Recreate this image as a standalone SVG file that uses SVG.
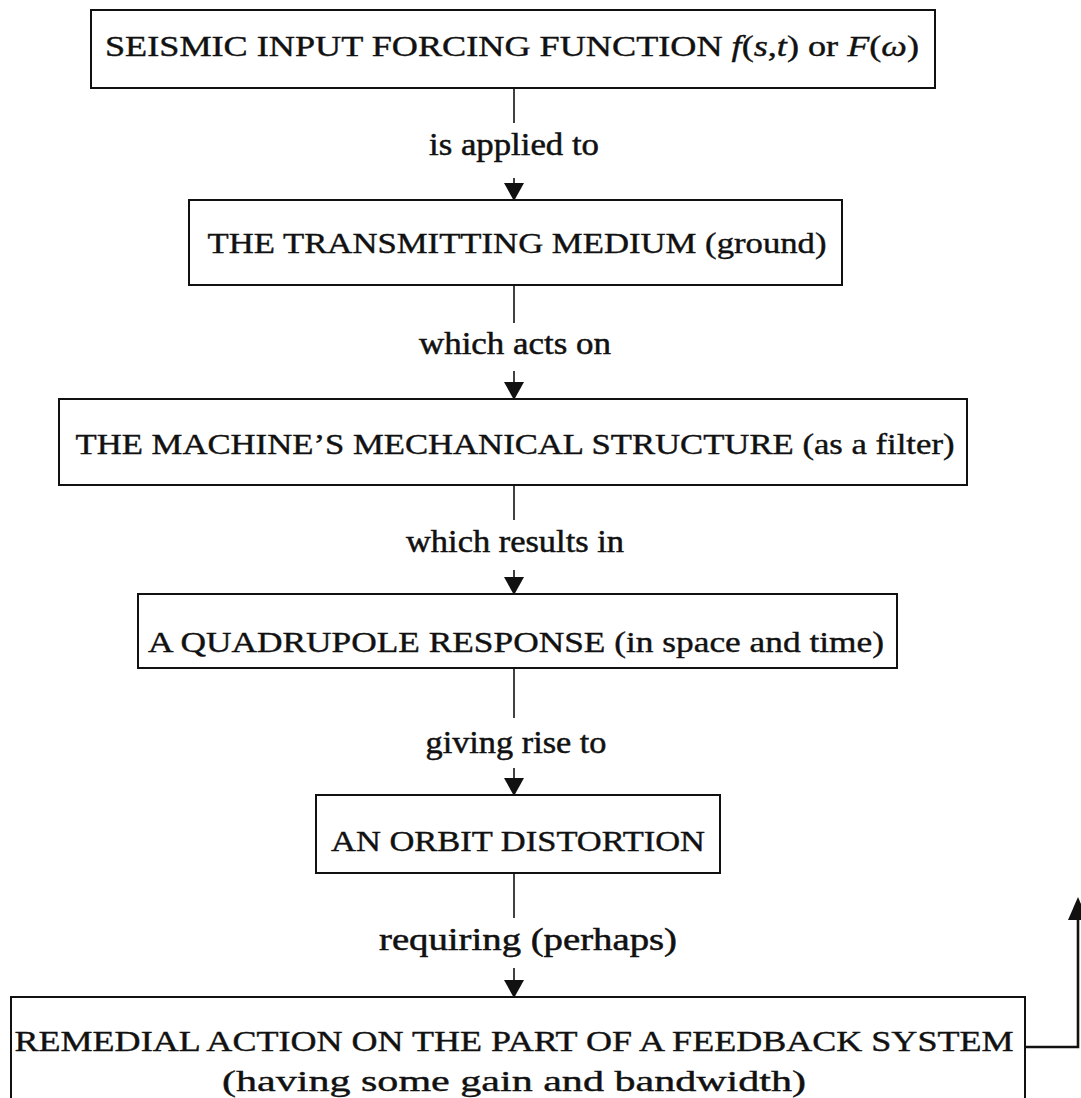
<svg xmlns="http://www.w3.org/2000/svg" width="1081" height="1098" viewBox="0 0 1081 1098">
  <style>
    .box { fill: #ffffff; stroke: #111111; stroke-width: 2; }
    .bt { font-family: "Liberation Serif", "Times New Roman", serif; font-size: 30px; fill: #111111; stroke: #111111; stroke-width: 0.4; text-anchor: middle; }
    .lb { font-family: "Liberation Serif", "Times New Roman", serif; font-size: 31px; fill: #111111; stroke: #111111; stroke-width: 0.5; text-anchor: middle; }
    .it { font-style: italic; }
    .ln { stroke: #111111; stroke-width: 1.6; fill: none; }
    .fb { stroke: #111111; stroke-width: 2.6; fill: none; }
  </style>
  <defs>
    <marker id="ah" markerUnits="userSpaceOnUse" markerWidth="18" markerHeight="20" viewBox="0 0 18 20" refX="18" refY="10" orient="auto">
      <path d="M0,0 L18,10 L0,20 Z" fill="#111111"/>
    </marker>
  </defs>
  <rect width="1081" height="1098" fill="#ffffff"/>

  <g id="connectors">
    <line class="ln" x1="514" y1="88" x2="514" y2="123"/>
    <line class="ln" x1="514" y1="178" x2="514" y2="201" marker-end="url(#ah)"/>
    <line class="ln" x1="514" y1="285" x2="514" y2="323"/>
    <line class="ln" x1="514" y1="371" x2="514" y2="400" marker-end="url(#ah)"/>
    <line class="ln" x1="514" y1="485" x2="514" y2="520"/>
    <line class="ln" x1="514" y1="570" x2="514" y2="595" marker-end="url(#ah)"/>
    <line class="ln" x1="514" y1="668" x2="514" y2="718"/>
    <line class="ln" x1="514" y1="768" x2="514" y2="796" marker-end="url(#ah)"/>
    <line class="ln" x1="514" y1="873" x2="514" y2="918"/>
    <line class="ln" x1="514" y1="968" x2="514" y2="998" marker-end="url(#ah)"/>
    <polyline class="fb" points="1025,1047 1078,1047 1078,912"/>
    <path d="M1078,897 L1068,920 L1088,920 Z" fill="#111111"/>
    <text class="lb" x="514" y="155" textLength="170" lengthAdjust="spacingAndGlyphs">is applied to</text>
    <text class="lb" x="515" y="354" textLength="192" lengthAdjust="spacingAndGlyphs">which acts on</text>
    <text class="lb" x="515" y="552" textLength="218" lengthAdjust="spacingAndGlyphs">which results in</text>
    <text class="lb" x="516" y="753" textLength="181" lengthAdjust="spacingAndGlyphs">giving rise to</text>
    <text class="lb" x="528" y="950" textLength="298" lengthAdjust="spacingAndGlyphs">requiring (perhaps)</text>
  </g>

  <g id="node-seismic-input">
    <rect class="box" x="91" y="10" width="844" height="78"/>
    <text class="bt" x="512" y="56" textLength="814" lengthAdjust="spacingAndGlyphs">SEISMIC INPUT FORCING FUNCTION <tspan class="it">f</tspan>(<tspan class="it">s</tspan>,<tspan class="it">t</tspan>) or <tspan class="it">F</tspan>(<tspan class="it">ω</tspan>)</text>
  </g>

  <g id="node-transmitting-medium">
    <rect class="box" x="189" y="200" width="653" height="85"/>
    <text class="bt" x="517" y="253" textLength="619" lengthAdjust="spacingAndGlyphs">THE TRANSMITTING MEDIUM (ground)</text>
  </g>

  <g id="node-mechanical-structure">
    <rect class="box" x="59" y="399" width="908" height="86"/>
    <text class="bt" x="515" y="454" textLength="879" lengthAdjust="spacingAndGlyphs">THE MACHINE’S MECHANICAL STRUCTURE (as a filter)</text>
  </g>

  <g id="node-quadrupole-response">
    <rect class="box" x="138" y="594" width="759" height="74"/>
    <text class="bt" x="516" y="652" textLength="736" lengthAdjust="spacingAndGlyphs">A QUADRUPOLE RESPONSE (in space and time)</text>
  </g>

  <g id="node-orbit-distortion">
    <rect class="box" x="316" y="795" width="404" height="78"/>
    <text class="bt" x="518" y="851" textLength="374" lengthAdjust="spacingAndGlyphs">AN ORBIT DISTORTION</text>
  </g>

  <g id="node-remedial-action">
    <rect class="box" x="11" y="997" width="1014" height="120"/>
    <text class="bt" x="514" y="1051" textLength="999" lengthAdjust="spacingAndGlyphs">REMEDIAL ACTION ON THE PART OF A FEEDBACK SYSTEM</text>
    <text class="bt" x="514" y="1091" textLength="584" lengthAdjust="spacingAndGlyphs">(having some gain and bandwidth)</text>
  </g>
</svg>
